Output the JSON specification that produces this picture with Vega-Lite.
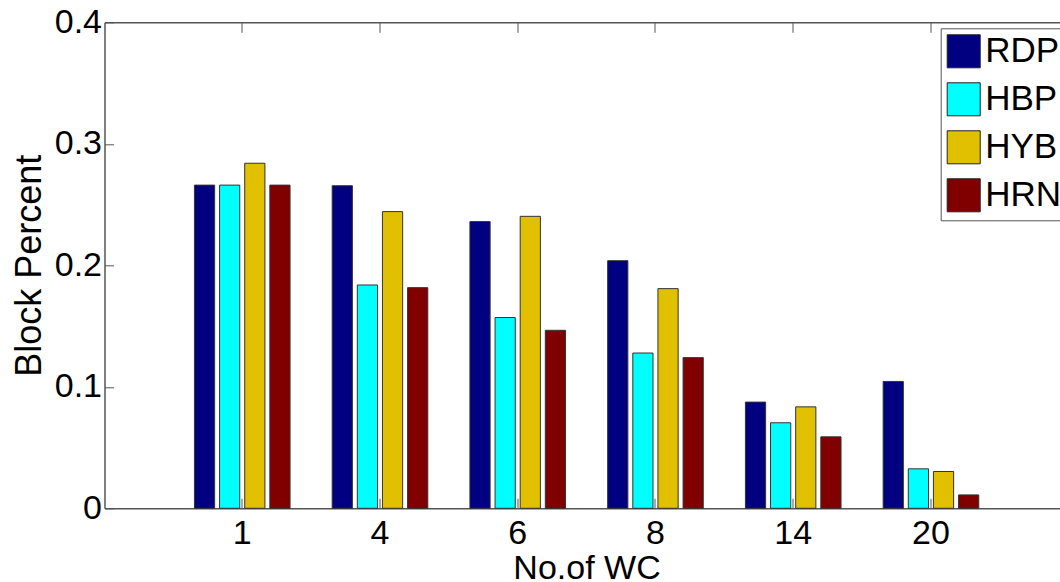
{
  "$schema": "https://vega.github.io/schema/vega-lite/v6.json",
  "width": 955.5,
  "height": 486,
  "autosize": {"type": "none"},
  "padding": {"left": 104.5, "top": 22.3, "right": 0, "bottom": 73.7},
  "background": "white",
  "config": {
    "font": "Liberation Sans",
    "view": {"stroke": null},
    "axis": {"grid": false, "domainColor": "#555", "tickColor": "#555", "labelColor": "black", "titleColor": "black", "labelFont": "Liberation Sans", "titleFont": "Liberation Sans", "titleFontWeight": "normal"}
  },
  "data": {
    "values": [
      {"wc": "1", "series": "RDP", "value": 0.266},
      {"wc": "1", "series": "HBP", "value": 0.266},
      {"wc": "1", "series": "HYB", "value": 0.284},
      {"wc": "1", "series": "HRN", "value": 0.266},
      {"wc": "4", "series": "RDP", "value": 0.2655},
      {"wc": "4", "series": "HBP", "value": 0.1838},
      {"wc": "4", "series": "HYB", "value": 0.2442},
      {"wc": "4", "series": "HRN", "value": 0.1816},
      {"wc": "6", "series": "RDP", "value": 0.236},
      {"wc": "6", "series": "HBP", "value": 0.157},
      {"wc": "6", "series": "HYB", "value": 0.2403},
      {"wc": "6", "series": "HRN", "value": 0.1465},
      {"wc": "8", "series": "RDP", "value": 0.2038},
      {"wc": "8", "series": "HBP", "value": 0.1278},
      {"wc": "8", "series": "HYB", "value": 0.1808},
      {"wc": "8", "series": "HRN", "value": 0.124},
      {"wc": "14", "series": "RDP", "value": 0.0874},
      {"wc": "14", "series": "HBP", "value": 0.0704},
      {"wc": "14", "series": "HYB", "value": 0.0835},
      {"wc": "14", "series": "HRN", "value": 0.0588},
      {"wc": "20", "series": "RDP", "value": 0.1044},
      {"wc": "20", "series": "HBP", "value": 0.0325},
      {"wc": "20", "series": "HYB", "value": 0.0303},
      {"wc": "20", "series": "HRN", "value": 0.011}
    ]
  },
  "resolve": {"axis": {"x": "independent", "y": "independent"}},
  "layer": [
    {
      "mark": {"type": "bar", "stroke": "#333", "strokeWidth": 1},
      "encoding": {
        "x": {
          "field": "wc", "type": "ordinal",
          "sort": ["1", "4", "6", "8", "14", "20"],
          "scale": {"type": "band", "paddingInner": 0, "paddingOuter": 0.5, "range": [0, 964.2]},
          "axis": {"orient": "bottom", "title": "No.of WC", "titleX": 482, "titleFontSize": 34, "titlePadding": 1, "labelFontSize": 34, "labelAngle": 0, "tickSize": -10, "labelPadding": 18, "bandPosition": 0.5, "domainWidth": 1.5}
        },
        "xOffset": {
          "field": "series", "type": "nominal",
          "sort": ["RDP", "HBP", "HYB", "HRN"],
          "scale": {"paddingInner": 0.196, "paddingOuter": 0.838}
        },
        "y": {
          "field": "value", "type": "quantitative",
          "scale": {"domain": [0, 0.4], "nice": false},
          "axis": {"title": "Block Percent", "titleFontSize": 36, "titlePadding": 6, "labelFontSize": 34, "values": [0, 0.1, 0.2, 0.3, 0.4], "format": ".1~f", "tickSize": -9, "labelPadding": 12, "domainWidth": 1.5}
        },
        "color": {
          "field": "series", "type": "nominal",
          "sort": ["RDP", "HBP", "HYB", "HRN"],
          "scale": {"domain": ["RDP", "HBP", "HYB", "HRN"], "range": ["#000080", "#00FFFF", "#E0C000", "#800000"]},
          "legend": {
            "orient": "none", "legendX": 836.2, "legendY": 6, "title": null,
            "symbolType": "square", "symbolSize": 1090, "symbolStrokeColor": "#222", "symbolStrokeWidth": 1, "symbolOpacity": 1,
            "labelFontSize": 35, "labelFont": "Liberation Sans", "labelColor": "black", "labelOffset": 4, "labelLimit": 300,
            "rowPadding": 9, "padding": 5.5, "strokeColor": "#555", "fillColor": "white"
          }
        }
      }
    },
    {
      "mark": {"type": "point", "opacity": 0},
      "encoding": {
        "x": {
          "field": "wc", "type": "ordinal",
          "sort": ["1", "4", "6", "8", "14", "20"],
          "axis": {"orient": "top", "title": null, "labels": false, "tickSize": -10, "bandPosition": 0.5, "domainWidth": 1.5}
        },
        "y": {"field": "value", "type": "quantitative", "axis": null}
      }
    }
  ]
}
